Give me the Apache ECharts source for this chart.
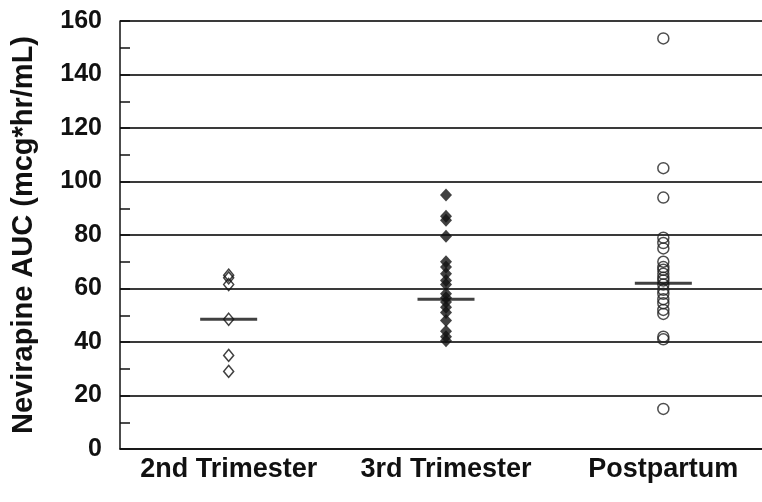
<!DOCTYPE html>
<html>
<head>
<meta charset="utf-8">
<title>Nevirapine AUC by period</title>
<script src="https://cdn.jsdelivr.net/npm/echarts@6/dist/echarts.min.js"></script>
<style>
  html, body { margin: 0; padding: 0; background: #fff; }
  #chart { width: 762px; height: 502px; }
</style>
</head>
<body>
<div id="chart"></div>
<script>
// Categories along the x axis
const categories = ['2nd Trimester', '3rd Trimester', 'Postpartum']

// Individual AUC values (mcg*hr/mL)
const secondTrimester = [65, 64, 61.5, 48.5, 35, 29]
const thirdTrimester = [95, 87, 85.5, 79.5, 70, 68, 65.5, 63, 61.5, 58, 56.5, 55, 53, 51, 48, 44, 42, 40.5]
const postpartum = [153.5, 105, 94, 79, 77, 75, 70, 68, 67, 65.5, 64, 63, 61.5, 59.5, 58, 56, 54.5, 52, 50.5, 42, 41, 15]

// Horizontal bar per group (median)
const medians = [48.5, 56, 62]

// Y axis ticks
const yTicks = [0, 20, 40, 60, 80, 100, 120, 140, 160]

const FONT = '"Liberation Sans", Arial, Helvetica, sans-serif'
const INK = '#111'

function toPoints(catIndex, values) {
  return values.map(v => [categories[catIndex], v])
}

const chart = echarts.init(document.getElementById('chart'), null, { renderer: 'canvas' })

chart.setOption({
  backgroundColor: '#fff',
  animation: false,
  // plot runs past the right edge of the canvas, like the original figure
  grid: { left: 120, top: 21, bottom: 53, width: 652, outerBoundsMode: 'none', containLabel: false },
  xAxis: {
    type: 'category',
    data: categories,
    axisLine: { lineStyle: { color: INK, width: 1.5 } },
    axisTick: { inside: true, alignWithLabel: true, length: 10, lineStyle: { color: INK, width: 1.5 } },
    axisLabel: { interval: 0, hideOverlap: false, color: INK, fontFamily: FONT, fontWeight: 'bold', fontSize: 27, margin: 7 },
    splitLine: { show: false }
  },
  yAxis: {
    type: 'value',
    min: yTicks[0],
    max: yTicks[yTicks.length - 1],
    interval: 20,
    name: 'Nevirapine AUC (mcg*hr/mL)',
    nameLocation: 'middle',
    nameGap: 82,
    nameTextStyle: { color: INK, fontFamily: FONT, fontWeight: 'bold', fontSize: 29 },
    axisLine: { show: true, lineStyle: { color: INK, width: 1.5 } },
    axisTick: { show: true, inside: true, length: 10, lineStyle: { color: INK, width: 1.5 } },
    minorTick: { show: true, splitNumber: 2, length: 10, lineStyle: { color: INK, width: 1.5 } },
    axisLabel: { color: INK, fontFamily: FONT, fontWeight: 'bold', fontSize: 25, margin: 18 },
    splitLine: { show: true, lineStyle: { color: '#3a3a3a', width: 1.8 } }
  },
  series: [
    {
      name: '2nd Trimester',
      type: 'scatter',
      symbol: 'diamond',
      symbolSize: [10, 12],
      itemStyle: { color: 'rgba(0,0,0,0)', borderColor: INK, borderWidth: 1.5 },
      data: toPoints(0, secondTrimester),
      z: 3
    },
    {
      name: '3rd Trimester',
      type: 'scatter',
      symbol: 'diamond',
      symbolSize: [12, 13],
      itemStyle: { color: INK },
      data: toPoints(1, thirdTrimester),
      z: 3
    },
    {
      name: 'Postpartum',
      type: 'scatter',
      symbol: 'circle',
      symbolSize: 11,
      itemStyle: { color: 'rgba(0,0,0,0)', borderColor: '#222', borderWidth: 1.5 },
      data: toPoints(2, postpartum),
      z: 3
    },
    {
      // median bars drawn as thin rect symbols
      name: 'Median',
      type: 'scatter',
      symbol: 'rect',
      symbolSize: [57, 3],
      itemStyle: { color: INK },
      data: medians.map((m, i) => [categories[i], m]),
      z: 4
    }
  ]
})
</script>
</body>
</html>
